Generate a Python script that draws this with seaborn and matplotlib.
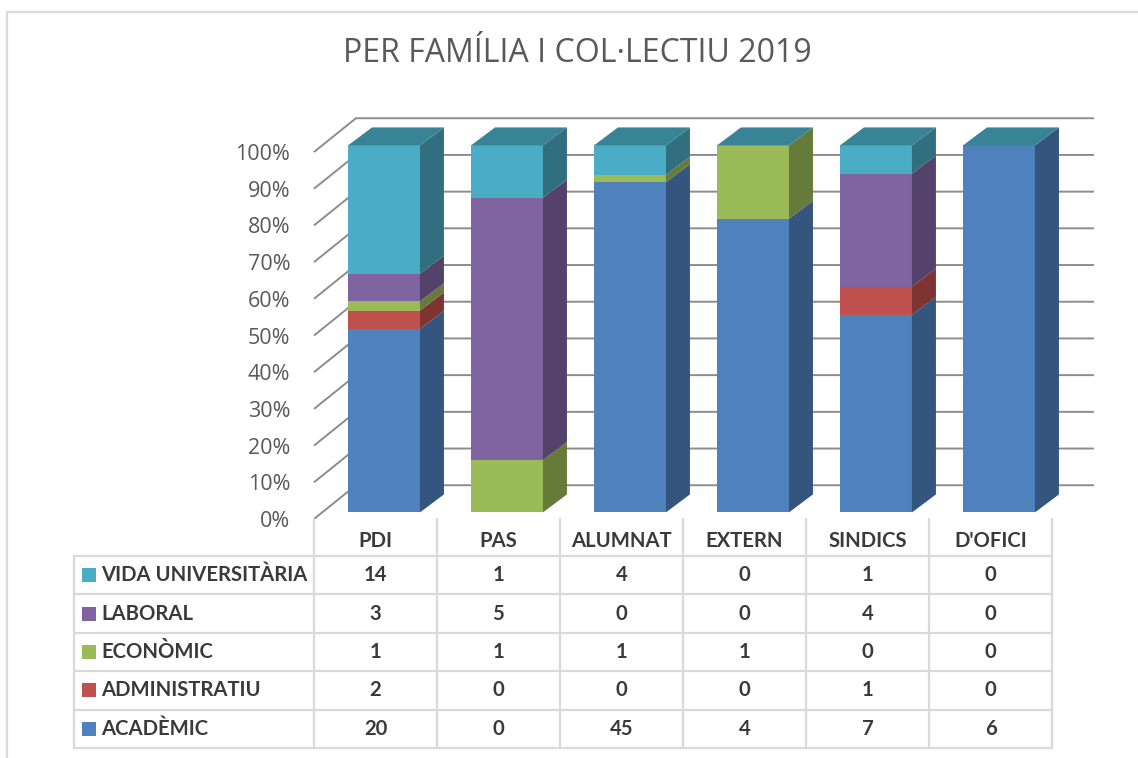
import numpy as np
import pandas as pd
import matplotlib
matplotlib.use("Agg")
import matplotlib.pyplot as plt
import seaborn as sns
from matplotlib.patches import Polygon, Rectangle
from matplotlib.lines import Line2D
from matplotlib.transforms import Affine2D, blended_transform_factory

# ---------------- data ----------------
categories = ["PDI", "PAS", "ALUMNAT", "EXTERN", "SINDICS", "D'OFICI"]
series_names = ["ACADÈMIC", "ADMINISTRATIU", "ECONÒMIC", "LABORAL", "VIDA UNIVERSITÀRIA"]
academic = [20, 0, 45, 4, 7, 6]
administratiu = [2, 0, 0, 0, 1, 0]
economic = [1, 1, 1, 1, 0, 0]
laboral = [3, 5, 0, 0, 4, 0]
vida_universitaria = [14, 1, 4, 0, 1, 0]
ytick_values = [0, 10, 20, 30, 40, 50, 60, 70, 80, 90, 100]
title_text = "PER FAMÍLIA I COL·LECTIU 2019"

# ---------------- style ----------------
front_colors = ["#4F81BD", "#C0504D", "#9BBB59", "#8064A2", "#4BACC6"]
side_colors = ["#34557E", "#7E3432", "#667A3A", "#54426B", "#316F80"]
top_color = "#388496"
grid_color = "#8C8C8C"
table_color = "#D9D9D9"
text_color = "#595959"
table_text_color = "#3A3A3A"

W, H = 1138, 758
sns.set_style("white")
plt.rcParams["font.family"] = ["Open Sans", "DejaVu Sans"]

fig = plt.figure(figsize=(W / 100, H / 100), dpi=100)


def fx(px):
    return px / W


def fy(py):
    return 1 - py / H


ax = fig.add_axes([fx(314), fy(519), fx(1052) - fx(314), fy(152) - fy(519)])

counts = np.array([academic, administratiu, economic, laboral, vida_universitaria], dtype=float)
totals = counts.sum(axis=0)
pct = counts / totals * 100
cum_top = np.cumsum(pct, axis=0)
cum_bot = cum_top - pct

BAR_W = 0.585
SHIFT_X, SHIFT_Y = 0.069, 1.8
DEPTH_X, DEPTH_Y = 0.195, 4.9
WALL_X, WALL_Y = 0.341, 9.2

# back wall grid lines with floor diagonals
for v in ytick_values:
    ax.plot([-0.5, -0.5 + WALL_X, len(categories) - 0.5 + WALL_X],
            [v, v + WALL_Y, v + WALL_Y], color=grid_color, lw=1.4,
            clip_on=False, zorder=1, solid_capstyle="butt")

# front faces: stacked via cumulative overlay with seaborn
n_before = len(ax.patches)
for k in reversed(range(len(series_names))):
    sns.barplot(x=categories, y=cum_top[k], order=categories, color=front_colors[k],
                saturation=1, width=BAR_W, ax=ax, linewidth=0, errorbar=None)
shift = Affine2D().translate(SHIFT_X, SHIFT_Y) + ax.transData
for p in ax.patches[n_before:]:
    p.set_transform(shift)
    p.set_clip_on(False)
    p.set_zorder(3)

# side faces and top faces
for i in range(len(categories)):
    xr = i + SHIFT_X + BAR_W / 2
    xl = i + SHIFT_X - BAR_W / 2
    for k in range(len(series_names)):
        if pct[k, i] <= 0:
            continue
        y0 = cum_bot[k, i] + SHIFT_Y
        y1 = cum_top[k, i] + SHIFT_Y
        ax.add_patch(Polygon([(xr, y0), (xr + DEPTH_X, y0 + DEPTH_Y),
                              (xr + DEPTH_X, y1 + DEPTH_Y), (xr, y1)],
                             closed=True, facecolor=side_colors[k], edgecolor="none",
                             clip_on=False, zorder=3))
    yt = cum_top[-1, i] + SHIFT_Y
    ax.add_patch(Polygon([(xl, yt), (xr, yt), (xr + DEPTH_X, yt + DEPTH_Y),
                          (xl + DEPTH_X, yt + DEPTH_Y)],
                         closed=True, facecolor=top_color, edgecolor="none",
                         clip_on=False, zorder=3))

ax.set_xlim(-0.5, len(categories) - 0.5)
ax.set_ylim(0, 100)
ax.set_yticks(ytick_values)
ax.set_yticklabels([f"{v}%" for v in ytick_values])
ax.set_xticks([])
ax.set_xlabel("")
ax.set_ylabel("")
ax.tick_params(axis="y", length=0, pad=17, labelsize=15.5, labelcolor=text_color)
for s in ax.spines.values():
    s.set_visible(False)
ax.patch.set_alpha(0)

# ---------------- title ----------------
fig.text(fx(577), fy(54), title_text, ha="center", va="center",
         fontsize=23, color=text_color)

# ---------------- data table ----------------
col_edges = [314 + 123 * j for j in range(len(categories) + 1)]
row_edges = [556 + 38.4 * r for r in range(len(series_names) + 1)]


def fline(xs, ys):
    fig.add_artist(Line2D([fx(x) for x in xs], [fy(y) for y in ys],
                          color=table_color, lw=1.6, transform=fig.transFigure))


for y in row_edges:
    fline([74, col_edges[-1]], [y, y])
fline([74, 74], [row_edges[0], row_edges[-1]])
for x in col_edges:
    fline([x, x], [519, row_edges[-1]])

blend = blended_transform_factory(ax.transData, fig.transFigure)
table_font = dict(fontsize=14.6, fontweight="bold", color=table_text_color,
                  family=["Lato", "DejaVu Sans"])
for i, c in enumerate(categories):
    fig.text(i, fy(541), c, ha="center", va="center", transform=blend, **table_font)

row_order = list(reversed(range(len(series_names))))
for r, k in enumerate(row_order):
    yc = (row_edges[r] + row_edges[r + 1]) / 2
    fig.add_artist(Rectangle((fx(82), fy(yc + 7)), fx(14), 14 / H,
                             facecolor=front_colors[k], edgecolor="none",
                             transform=fig.transFigure))
    fig.text(fx(101), fy(yc), series_names[k], ha="left", va="center", **table_font)
    for i in range(len(categories)):
        fig.text(i, fy(yc), f"{int(counts[k, i])}", ha="center", va="center",
                 transform=blend, **table_font)

# outer frame
fig.add_artist(Line2D([fx(7), fx(7), fx(W)], [fy(H), fy(12), fy(12)],
                      color=table_color, lw=1.6, transform=fig.transFigure))

fig.savefig("out.png", dpi=100)
